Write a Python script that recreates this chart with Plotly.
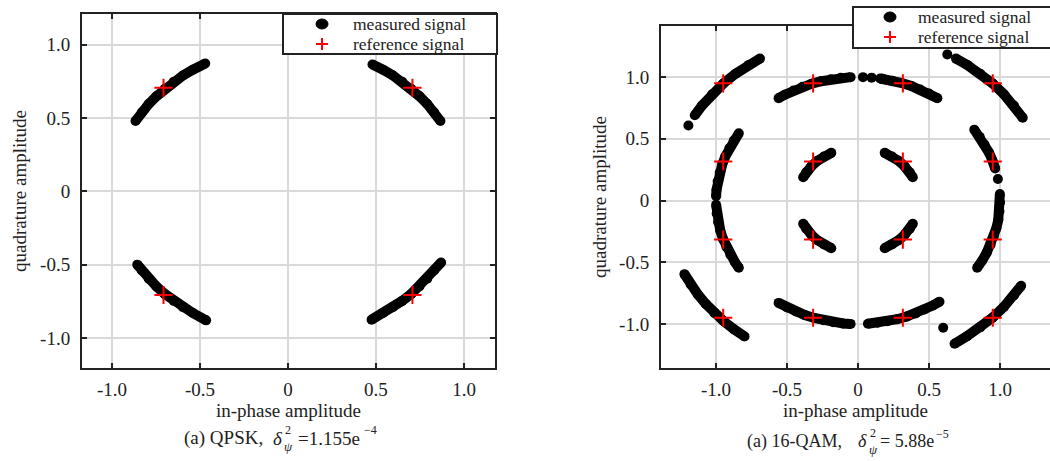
import plotly.graph_objects as go

# ---------------- data ----------------
tick_vals = [-1.0, -0.5, 0.0, 0.5, 1.0]
tick_text = ["-1.0", "-0.5", "0", "0.5", "1.0"]

# QPSK measured signal arcs
qpsk_ur_x = [0.866, 0.830, 0.791, 0.747, 0.700, 0.649, 0.596, 0.540, 0.480]
qpsk_ur_y = [0.480, 0.540, 0.596, 0.649, 0.700, 0.747, 0.791, 0.830, 0.866]
qpsk_ul_x = [-0.866, -0.830, -0.791, -0.747, -0.700, -0.649, -0.596, -0.540, -0.470]
qpsk_ul_y = [0.480, 0.540, 0.596, 0.649, 0.700, 0.747, 0.791, 0.830, 0.872]
qpsk_ll_x = [-0.856, -0.830, -0.791, -0.747, -0.700, -0.649, -0.596, -0.540, -0.465]
qpsk_ll_y = [-0.500, -0.540, -0.596, -0.649, -0.700, -0.747, -0.791, -0.830, -0.880]
qpsk_lr_x = [0.870, 0.830, 0.791, 0.747, 0.700, 0.649, 0.596, 0.540, 0.475]
qpsk_lr_y = [-0.485, -0.540, -0.596, -0.649, -0.700, -0.747, -0.791, -0.830, -0.875]
# QPSK reference constellation
qpsk_ref_x = [0.707, -0.707, -0.707, 0.707]
qpsk_ref_y = [0.707, 0.707, -0.707, -0.707]

# 16-QAM measured signal arcs (outer corners)
qam_o_ur_x = [1.160, 1.098, 1.027, 0.948, 0.861, 0.769, 0.690]
qam_o_ur_y = [0.670, 0.769, 0.861, 0.948, 1.027, 1.098, 1.149]
qam_o_ul_x = [-0.690, -0.769, -0.861, -0.948, -1.027, -1.098, -1.149]
qam_o_ul_y = [1.149, 1.098, 1.027, 0.948, 0.861, 0.769, 0.690]
qam_o_lr_x = [1.149, 1.098, 1.027, 0.948, 0.861, 0.769, 0.680]
qam_o_lr_y = [-0.690, -0.769, -0.861, -0.948, -1.027, -1.098, -1.160]
qam_o_ll_x = [-1.222, -1.178, -1.127, -1.072, -1.011, -0.945, -0.874, -0.799]
qam_o_ll_y = [-0.596, -0.680, -0.761, -0.837, -0.910, -0.978, -1.042, -1.100]
# 16-QAM middle ring arcs
qam_m_tl_x = [-0.052, -0.122, -0.191, -0.259, -0.326, -0.391, -0.454, -0.515, -0.559]
qam_m_tl_y = [0.999, 0.993, 0.982, 0.966, 0.946, 0.921, 0.891, 0.857, 0.829]
qam_m_tr_x = [0.156, 0.174, 0.242, 0.309, 0.375, 0.438, 0.500, 0.559]
qam_m_tr_y = [0.988, 0.985, 0.970, 0.951, 0.927, 0.899, 0.866, 0.829]
qam_m_bl_x = [-0.559, -0.500, -0.438, -0.375, -0.309, -0.242, -0.174, -0.105, -0.052]
qam_m_bl_y = [-0.829, -0.866, -0.899, -0.927, -0.951, -0.970, -0.985, -0.995, -0.999]
qam_m_br_x = [0.070, 0.139, 0.208, 0.276, 0.342, 0.407, 0.469, 0.530, 0.574]
qam_m_br_y = [-0.998, -0.990, -0.978, -0.961, -0.940, -0.914, -0.883, -0.848, -0.819]
qam_m_lu_x = [-0.839, -0.875, -0.906, -0.934, -0.956, -0.974, -0.988, -0.996, -0.999]
qam_m_lu_y = [0.545, 0.485, 0.423, 0.358, 0.292, 0.225, 0.156, 0.087, 0.035]
qam_m_ld_x = [-0.999, -0.995, -0.985, -0.970, -0.951, -0.927, -0.899, -0.866, -0.839]
qam_m_ld_y = [-0.035, -0.105, -0.174, -0.242, -0.309, -0.375, -0.438, -0.500, -0.545]
qam_m_ru_x = [0.819, 0.857, 0.891, 0.921, 0.946, 0.966]
qam_m_ru_y = [0.574, 0.515, 0.454, 0.391, 0.326, 0.259]
qam_m_rd_x = [0.999, 1.000, 0.996, 0.988, 0.974, 0.956, 0.934, 0.906, 0.875, 0.839]
qam_m_rd_y = [0.052, -0.017, -0.087, -0.156, -0.225, -0.292, -0.358, -0.423, -0.485, -0.545]
# 16-QAM inner arcs
qam_i_ul_x = [-0.188, -0.240, -0.288, -0.329, -0.365, -0.386]
qam_i_ul_y = [0.386, 0.356, 0.320, 0.276, 0.228, 0.188]
qam_i_ur_x = [0.188, 0.240, 0.288, 0.329, 0.365, 0.386]
qam_i_ur_y = [0.386, 0.356, 0.320, 0.276, 0.228, 0.188]
qam_i_ll_x = [-0.188, -0.240, -0.288, -0.329, -0.365, -0.386]
qam_i_ll_y = [-0.386, -0.356, -0.320, -0.276, -0.228, -0.188]
qam_i_lr_x = [0.188, 0.240, 0.288, 0.329, 0.365, 0.386]
qam_i_lr_y = [-0.386, -0.356, -0.320, -0.276, -0.228, -0.188]
# 16-QAM isolated measured points
qam_dots_x = [0.629, -1.194, 0.035, 0.096, 0.985, 0.600]
qam_dots_y = [1.183, 0.608, 0.999, 0.995, 0.174, -1.030]
# 16-QAM reference constellation
qam_ref_x = [-0.949, -0.316, 0.316, 0.949] * 4
qam_ref_y = [0.949] * 4 + [0.316] * 4 + [-0.316] * 4 + [-0.949] * 4

legend_names = ["measured signal", "reference signal"]

# ---------------- figure ----------------
W, H = 1050, 461
FONT = "Liberation Serif, Times New Roman, serif"
INK = "#222222"


def px_x(p):
    return p / W


def px_y(p):
    return 1 - p / H


fig = go.Figure()

MEAS = dict(mode="lines+markers", line=dict(color="black", width=10),
            marker=dict(color="black", size=10), showlegend=False,
            hoverinfo="skip")

for xs, ys in [(qpsk_ur_x, qpsk_ur_y), (qpsk_ul_x, qpsk_ul_y),
               (qpsk_ll_x, qpsk_ll_y), (qpsk_lr_x, qpsk_lr_y)]:
    fig.add_trace(go.Scatter(x=xs, y=ys, xaxis="x", yaxis="y",
                             name=legend_names[0], **MEAS))

for xs, ys in [(qam_o_ur_x, qam_o_ur_y), (qam_o_ul_x, qam_o_ul_y),
               (qam_o_lr_x, qam_o_lr_y), (qam_o_ll_x, qam_o_ll_y),
               (qam_m_tl_x, qam_m_tl_y), (qam_m_tr_x, qam_m_tr_y),
               (qam_m_bl_x, qam_m_bl_y), (qam_m_br_x, qam_m_br_y),
               (qam_m_lu_x, qam_m_lu_y), (qam_m_ld_x, qam_m_ld_y),
               (qam_m_ru_x, qam_m_ru_y), (qam_m_rd_x, qam_m_rd_y),
               (qam_i_ul_x, qam_i_ul_y), (qam_i_ur_x, qam_i_ur_y),
               (qam_i_ll_x, qam_i_ll_y), (qam_i_lr_x, qam_i_lr_y)]:
    fig.add_trace(go.Scatter(x=xs, y=ys, xaxis="x2", yaxis="y2",
                             name=legend_names[0], **MEAS))

fig.add_trace(go.Scatter(x=qam_dots_x, y=qam_dots_y, xaxis="x2", yaxis="y2",
                         mode="markers", marker=dict(color="black", size=10),
                         name=legend_names[0], showlegend=False, hoverinfo="skip"))

REF = dict(mode="markers", showlegend=False,
           marker=dict(symbol="cross-thin", size=13, color="red",
                       line=dict(color="red", width=2)))
fig.add_trace(go.Scatter(x=qpsk_ref_x, y=qpsk_ref_y, xaxis="x", yaxis="y",
                         name=legend_names[1], **REF))
fig.add_trace(go.Scatter(x=qam_ref_x, y=qam_ref_y, xaxis="x2", yaxis="y2",
                         name=legend_names[1], **REF))

AX = dict(tickvals=tick_vals, ticktext=tick_text, showgrid=True,
          gridcolor="#d9d9d9", gridwidth=2, zeroline=False,
          showline=True, linecolor=INK, linewidth=2,
          ticks="inside", ticklen=5, tickwidth=2, tickcolor=INK,
          tickfont=dict(family=FONT, size=19, color=INK))

# panel geometry (pixels)
L_left, L_right, L_top, L_bot = 82, 495, 14, 368
R_left, R_top, R_bot = 661, 26, 368

fig.update_layout(
    width=W, height=H, margin=dict(l=0, r=0, t=0, b=0),
    paper_bgcolor="white", plot_bgcolor="white", showlegend=False,
    font=dict(family=FONT, size=19, color=INK),
    xaxis=dict(domain=[px_x(L_left), px_x(L_right)], range=[-1.17, 1.176],
               anchor="y", mirror="ticks", ticklabelstandoff=3,
               title=dict(text="in-phase amplitude", standoff=2,
                          font=dict(family=FONT, size=19)), **AX),
    yaxis=dict(domain=[px_y(L_bot), px_y(L_top)], range=[-1.205, 1.21],
               anchor="x", mirror="ticks", ticklabelstandoff=6,
               title=dict(text="quadrature amplitude", standoff=8,
                          font=dict(family=FONT, size=19)), **AX),
    xaxis2=dict(domain=[px_x(R_left), 1.0], range=[-1.387, 1.352],
                anchor="y2", mirror="ticks", ticklabelstandoff=3,
                title=dict(text="in-phase amplitude", standoff=4,
                           font=dict(family=FONT, size=19)), **AX),
    yaxis2=dict(domain=[px_y(R_bot), px_y(R_top)], range=[-1.356, 1.413],
                anchor="x2", mirror=False, ticklabelstandoff=6,
                title=dict(text="quadrature amplitude", standoff=7,
                           font=dict(family=FONT, size=19)), **AX),
)


def ann(text, x, y, size=19, anchor="left"):
    fig.add_annotation(text=text, x=px_x(x), y=px_y(y), xref="paper", yref="paper",
                       xanchor=anchor, yanchor="middle", showarrow=False,
                       font=dict(family=FONT, size=size, color=INK))


def legend_box(x0, x1, y0, y1, sym_x, row1, row2, text_x):
    shapes = [
        dict(type="rect", xref="paper", yref="paper", layer="above",
             x0=px_x(x0), x1=px_x(x1), y0=px_y(y1), y1=px_y(y0),
             line=dict(color=INK, width=2), fillcolor="white"),
        dict(type="circle", xref="paper", yref="paper", layer="above",
             x0=px_x(sym_x - 6), x1=px_x(sym_x + 6),
             y0=px_y(row1 + 5), y1=px_y(row1 - 5),
             line=dict(color="black", width=1), fillcolor="black"),
        dict(type="line", xref="paper", yref="paper", layer="above",
             x0=px_x(sym_x - 6), x1=px_x(sym_x + 6), y0=px_y(row2), y1=px_y(row2),
             line=dict(color="red", width=2)),
        dict(type="line", xref="paper", yref="paper", layer="above",
             x0=px_x(sym_x), x1=px_x(sym_x), y0=px_y(row2 - 6), y1=px_y(row2 + 6),
             line=dict(color="red", width=2)),
    ]
    for s in shapes:
        fig.add_shape(**s)
    ann(legend_names[0], text_x, row1, size=17.5)
    ann(legend_names[1], text_x, row2, size=17.5)


legend_box(283, 497, 14, 54, 322, 24, 44, 351)
legend_box(853, 1060, 7, 48, 890, 17, 37, 916)

# caption left
ann("(a) QPSK,", 182, 438)
ann("<i>δ</i>", 271, 438)
ann("2", 283, 430, size=12)
ann("<i>ψ</i>", 282, 446, size=13)
ann("=1.155e", 296, 438)
ann("−4", 362, 430, size=12)
# caption right
ann("(a) 16-QAM,", 745, 441, size=18)
ann("<i>δ</i>", 856, 441, size=18)
ann("2", 868, 433, size=12)
ann("<i>ψ</i>", 867, 449, size=13)
ann("= 5.88e", 878, 441, size=18)
ann("−5", 934, 434, size=12)

fig.write_html("out.html")
